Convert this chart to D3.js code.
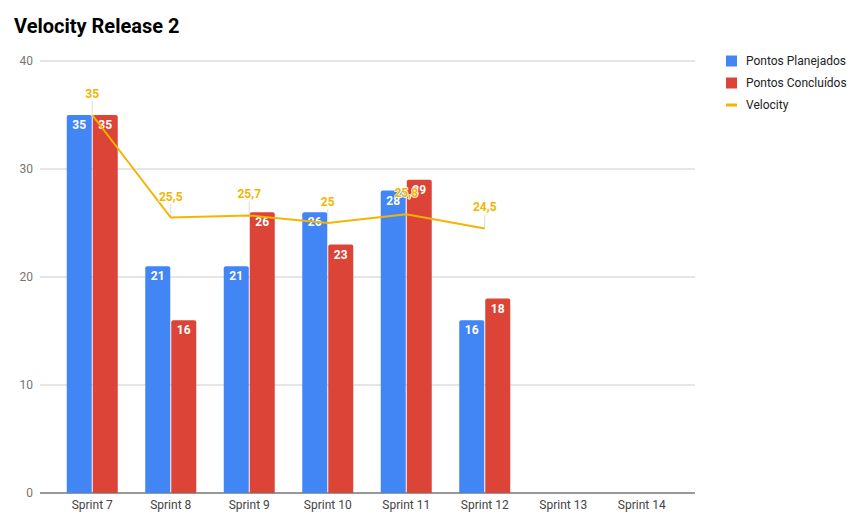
<!DOCTYPE html>
<html>
<head>
<meta charset="utf-8">
<script src="https://cdn.jsdelivr.net/npm/d3@7"></script>
<style>
  body { margin: 0; background: #fff; }
  svg { font-family: Roboto, "Noto Sans", sans-serif; }
</style>
</head>
<body>
<svg id="chart" width="855" height="531"></svg>
<script>
// chart data
var sprints = ["Sprint 7", "Sprint 8", "Sprint 9", "Sprint 10", "Sprint 11", "Sprint 12", "Sprint 13", "Sprint 14"];
var planejados = [35, 21, 21, 26, 28, 16, null, null];
var concluidos = [35, 16, 26, 23, 29, 18, null, null];
var velocity = [35, 25.5, 25.7, 25, 25.8, 24.5, null, null];
var yTicks = [0, 10, 20, 30, 40];
var seriesNames = ["Pontos Planejados", "Pontos Concluídos", "Velocity"];
var colors = ["#4285f4", "#db4437", "#f4b400"];

var svg = d3.select("#chart");

// title
svg.append("text")
  .attr("x", 14).attr("y", 33)
  .attr("font-size", 20).attr("font-weight", "bold")
  .attr("fill", "#000")
  .text("Velocity Release 2");

var y = d3.scaleLinear().domain([0, 40]).range([493, 61]);
var x = d3.scaleBand().domain(sprints).range([53, 681]);

// gridlines
svg.append("g").selectAll("line")
  .data(yTicks)
  .enter().append("line")
  .attr("x1", 40).attr("x2", 695)
  .attr("y1", function(d) { return y(d); })
  .attr("y2", function(d) { return y(d); })
  .attr("stroke", function(d) { return d === 0 ? "#333" : "#ccc"; })
  .attr("stroke-width", 1);

svg.append("g").selectAll("text")
  .data(yTicks)
  .enter().append("text")
  .attr("x", 33)
  .attr("y", function(d) { return y(d) + 4; })
  .attr("text-anchor", "end")
  .attr("font-size", 12).attr("fill", "#757575")
  .text(function(d) { return d; });

// x labels
svg.append("g").selectAll("text")
  .data(sprints)
  .enter().append("text")
  .attr("x", function(d) { return x(d) + x.bandwidth() / 2; })
  .attr("y", 509)
  .attr("text-anchor", "middle")
  .attr("font-size", 12).attr("fill", "#444")
  .text(function(d) { return d; });

var barW = 25;
function barPath(x0, top, w, h) {
  var r = Math.min(2, h);
  return "M" + x0 + "," + (top + h) +
    "V" + (top + r) +
    "Q" + x0 + "," + top + " " + (x0 + r) + "," + top +
    "H" + (x0 + w - r) +
    "Q" + (x0 + w) + "," + top + " " + (x0 + w) + "," + (top + r) +
    "V" + (top + h) + "Z";
}

[planejados, concluidos].forEach(function(series, si) {
  var g = svg.append("g");
  var data = sprints.map(function(s, i) { return { s: s, v: series[i] }; })
    .filter(function(d) { return d.v != null; });
  var bx = function(d) {
    var c = x(d.s) + x.bandwidth() / 2;
    return si === 0 ? c - barW - 0.5 : c + 0.5;
  };
  g.selectAll("path")
    .data(data)
    .enter().append("path")
    .attr("d", function(d) { return barPath(bx(d), y(d.v), barW, y(0) - y(d.v)); })
    .attr("fill", colors[si]);
  g.selectAll("text")
    .data(data)
    .enter().append("text")
    .attr("x", function(d) { return bx(d) + barW / 2; })
    .attr("y", function(d) { return y(d.v) + 14; })
    .attr("text-anchor", "middle")
    .attr("font-size", 12).attr("font-weight", "bold")
    .attr("fill", "#fff")
    .text(function(d) { return d.v; });
});

// velocity line
var vData = sprints.map(function(s, i) { return { s: s, v: velocity[i] }; })
  .filter(function(d) { return d.v != null; });
var cx = function(d) { return x(d.s) + x.bandwidth() / 2; };

var lg = svg.append("g");
lg.selectAll("line")
  .data(vData)
  .enter().append("line")
  .attr("x1", cx).attr("x2", cx)
  .attr("y1", function(d) { return y(d.v) - 14; })
  .attr("y2", function(d) { return y(d.v); })
  .attr("stroke", "#ddd").attr("stroke-width", 1);

svg.append("path")
  .datum(vData)
  .attr("fill", "none")
  .attr("stroke", colors[2])
  .attr("stroke-width", 2)
  .attr("d", d3.line().x(cx).y(function(d) { return y(d.v); }));

svg.append("g").selectAll("text")
  .data(vData)
  .enter().append("text")
  .attr("x", cx)
  .attr("y", function(d) { return y(d.v) - 17; })
  .attr("text-anchor", "middle")
  .attr("font-size", 12).attr("font-weight", "bold")
  .attr("fill", colors[2])
  .attr("stroke", "#fff").attr("stroke-width", 1.5)
  .attr("paint-order", "stroke")
  .text(function(d) { return String(d.v).replace(".", ","); });

// legend
var leg = svg.append("g").selectAll("g")
  .data(seriesNames)
  .enter().append("g")
  .attr("transform", function(d, i) { return "translate(726," + (61 + i * 22) + ")"; });
leg.append("rect")
  .attr("x", 0)
  .attr("y", function(d, i) { return i === 2 ? -1.5 : -5.5; })
  .attr("width", 11)
  .attr("height", function(d, i) { return i === 2 ? 3 : 11; })
  .attr("fill", function(d, i) { return colors[i]; });
leg.append("text")
  .attr("x", 20).attr("y", 4)
  .attr("font-size", 12).attr("fill", "#222")
  .text(function(d) { return d; });
</script>
</body>
</html>
